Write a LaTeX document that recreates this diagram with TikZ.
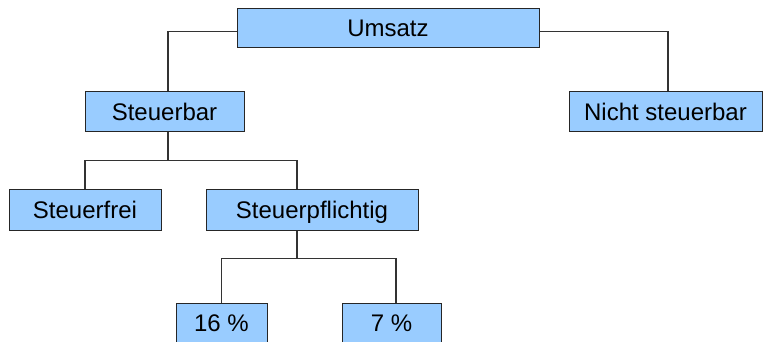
\documentclass[tikz,border=0pt]{standalone}
\usepackage{fontspec}
\setmainfont{Liberation Sans}
\usepackage{tikz}
\definecolor{boxblue}{RGB}{153,204,255}
\definecolor{linegray}{RGB}{51,51,51}
\tikzset{
  box/.style={draw=black!85,line width=1pt,fill=boxblue,inner sep=0pt,
    minimum height=40,text height=17pt,text depth=0pt,
    font=\fontsize{24}{28}\selectfont},
  link/.style={draw=linegray,line width=1.2pt}
}
\begin{document}
\begin{tikzpicture}[x=1pt,y=-1pt]
\useasboundingbox (0,0) rectangle (763,342);
\node [box,minimum width=302,minimum height=39] (umsatz) at (388,28.5) {Umsatz};
\node [box,minimum width=159] (steuerbar) at (164.5,112) {Steuerbar};
\node [box,minimum width=193] (nichtsteuerbar) at (665.5,112) {Nicht steuerbar};
\node [box,minimum width=152,minimum height=41] (steuerfrei) at (85,209.5) {Steuerfrei};
\node [box,minimum width=212,minimum height=41] (steuerpflichtig) at (312,209.5) {Steuerpflichtig};
\node [box,minimum width=91] (satzvoll) at (221.5,323) {16 \%};
\node [box,minimum width=99] (satzerm) at (391.5,323) {7 \%};
\draw [link] ([yshift=-3]umsatz.west) -| ([xshift=3.5]steuerbar.north);
\draw [link] ([yshift=-3]umsatz.east) -| ([xshift=2.5]nichtsteuerbar.north);
\draw [link] ([xshift=3.5]steuerbar.south) -- ++(0,28) coordinate (gabel1);
\draw [link] (steuerfrei.north) |- (gabel1) -| ([xshift=-15]steuerpflichtig.north);
\draw [link] ([xshift=-15]steuerpflichtig.south) -- ++(0,28) coordinate (gabel2);
\draw [link] (satzvoll.north) |- (gabel2) -| ([xshift=4.5]satzerm.north);
\end{tikzpicture}
\end{document}
